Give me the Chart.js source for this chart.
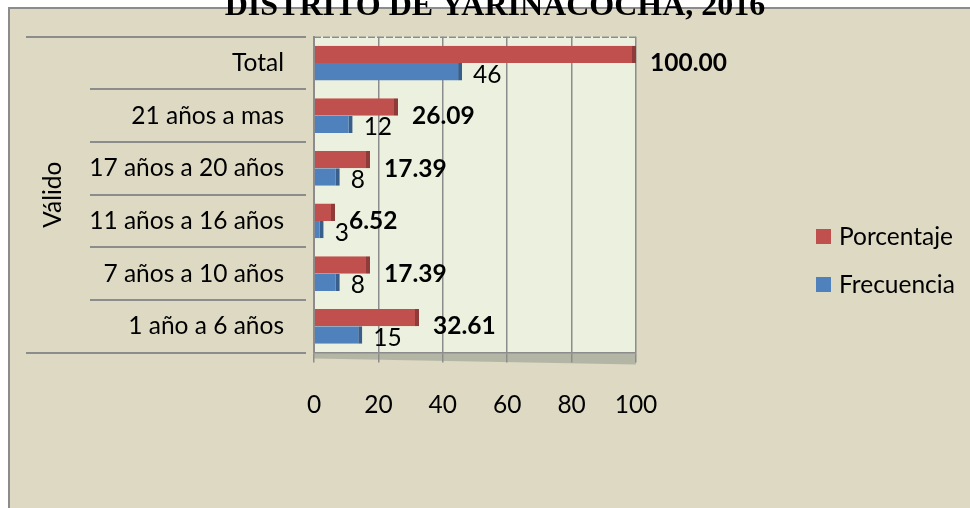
<!DOCTYPE html>
<html><head><meta charset="utf-8">
<script src="https://cdn.jsdelivr.net/npm/chart.js@4/dist/chart.umd.min.js"></script>
<style>html,body{margin:0;padding:0;background:#fff;}#wrap{width:970px;height:508px;}canvas{display:block}</style>
</head><body><div id="wrap"><canvas id="c" width="970" height="508"></canvas></div>
<script>
const titleText = 'DISTRITO DE YARINACOCHA, 2016';
const categories = ['Total', '21 años a mas', '17 años a 20 años', '11 años a 16 años', '7 años a 10 años', '1 año a 6 años'];
const groupLabel = 'Válido';
const seriesNames = ['Porcentaje', 'Frecuencia'];
const porcentaje = [100.00, 26.09, 17.39, 6.52, 17.39, 32.61];
const frecuencia = [46, 12, 8, 3, 8, 15];
const xTicks = [0, 20, 40, 60, 80, 100];

const FONT = 'Lato';
const FS = 24.5;
const RED = '#C0504D', RED_D = '#8E3B39';
const BLUE = '#4F81BD', BLUE_D = '#385E8B';
const GRID = '#8C8C8C';

const bgPlugin = {
  id: 'bg',
  beforeDraw(chart) {
    const {ctx, chartArea: a} = chart;
    ctx.save();
    ctx.fillStyle = '#FFFFFF';
    ctx.fillRect(0, 0, chart.width, chart.height);
    ctx.fillStyle = '#DDD9C3';
    ctx.fillRect(8, 7, chart.width - 8, chart.height - 7);
    ctx.strokeStyle = GRID; ctx.lineWidth = 2;
    ctx.beginPath();
    ctx.moveTo(9, chart.height); ctx.lineTo(9, 8); ctx.lineTo(chart.width, 8);
    ctx.stroke();
    ctx.fillStyle = '#EBF1DE';
    ctx.fillRect(a.left, a.top, a.right - a.left, a.bottom - a.top);
    // floor
    ctx.fillStyle = '#B4B6A5';
    ctx.beginPath();
    ctx.moveTo(a.left, a.bottom); ctx.lineTo(a.right, a.bottom);
    ctx.lineTo(a.right, a.bottom + 12); ctx.lineTo(a.left, a.bottom + 6);
    ctx.closePath(); ctx.fill();
    ctx.restore();
  },
  afterDraw(chart) {
    const {ctx, chartArea: a} = chart;
    const ys = chart.scales.y;
    ctx.save();
    // back-wall top edge
    ctx.strokeStyle = GRID; ctx.lineWidth = 1.5;
    ctx.setLineDash([7, 2]);
    ctx.beginPath(); ctx.moveTo(a.left, a.top + 0.5); ctx.lineTo(a.right, a.top + 0.5); ctx.stroke();
    ctx.setLineDash([]);
    // category dividers on the left
    const n = categories.length;
    const step = (ys.getPixelForTick(n - 1) - ys.getPixelForTick(0)) / (n - 1);
    ctx.lineWidth = 2;
    for (let i = 0; i <= n; i++) {
      const y = Math.round(ys.getPixelForTick(0) - step / 2 + i * step);
      const x0 = (i === 0 || i === n) ? 26 : 90;
      ctx.beginPath(); ctx.moveTo(x0, y); ctx.lineTo(a.left - 8, y); ctx.stroke();
    }
    // title
    ctx.fillStyle = '#000';
    ctx.font = 'bold 32px "Liberation Serif"';
    ctx.textAlign = 'center'; ctx.textBaseline = 'alphabetic';
    ctx.fillText(titleText, 495, 15);
    // legend
    ctx.font = FS + 'px ' + FONT;
    ctx.textAlign = 'left'; ctx.textBaseline = 'middle';
    chart.data.datasets.forEach((ds, i) => {
      const cy = 237 + i * 48;
      ctx.fillStyle = ds.backgroundColor;
      ctx.fillRect(816, cy - 8, 15, 15);
      ctx.fillStyle = '#000';
      ctx.fillText(ds.label, 839, cy);
    });
    ctx.restore();
  },
  afterDatasetsDraw(chart) {
    const {ctx} = chart;
    ctx.save();
    ctx.textAlign = 'left'; ctx.textBaseline = 'middle';
    ctx.fillStyle = '#000';
    chart.data.datasets.forEach((ds, di) => {
      const meta = chart.getDatasetMeta(di);
      meta.data.forEach((bar, i) => {
        const v = ds.data[i];
        if (di === 0) {
          ctx.font = 'bold ' + FS + 'px ' + FONT;
          ctx.fillText(v.toFixed(2), bar.x + 14, bar.y + 9);
        } else {
          ctx.font = FS + 'px ' + FONT;
          ctx.fillText(String(v), bar.x + 11, bar.y + 3);
        }
      });
    });
    ctx.restore();
  }
};

new Chart(document.getElementById('c'), {
  type: 'bar',
  data: {
    labels: categories,
    datasets: [
      { label: seriesNames[0], data: porcentaje, backgroundColor: RED, borderColor: RED_D,
        borderWidth: {top: 0, right: 4, bottom: 0, left: 0}, borderSkipped: false },
      { label: seriesNames[1], data: frecuencia, backgroundColor: BLUE, borderColor: BLUE_D,
        borderWidth: {top: 0, right: 4, bottom: 0, left: 0}, borderSkipped: false }
    ]
  },
  options: {
    indexAxis: 'y',
    responsive: false,
    animation: false,
    devicePixelRatio: 1,
    categoryPercentage: 0.66,
    barPercentage: 1.0,
    layout: { padding: { top: 27, right: 334, bottom: 60, left: 0 } },
    plugins: { legend: { display: false }, tooltip: { enabled: false }, title: { display: false } },
    scales: {
      x: {
        type: 'linear', min: 0, max: 100,
        afterBuildTicks: s => { s.ticks = xTicks.map(v => ({ value: v })); },
        grid: { color: GRID, lineWidth: 1.5, tickLength: 10, tickColor: GRID },
        border: { display: true, color: GRID, width: 1.5 },
        ticks: { color: '#000', font: { family: FONT, size: FS }, padding: 28, maxRotation: 0 }
      },
      y: {
        type: 'category',
        grid: { display: false },
        border: { display: true, color: GRID, width: 2 },
        ticks: { color: '#000', font: { family: FONT, size: FS }, padding: 22 },
        title: { display: true, text: groupLabel, color: '#000', font: { family: FONT, size: FS }, padding: { top: 38, bottom: 0 } },
        afterFit: s => { s.width = 314; }
      }
    }
  },
  plugins: [bgPlugin]
});
</script>
</body></html>
